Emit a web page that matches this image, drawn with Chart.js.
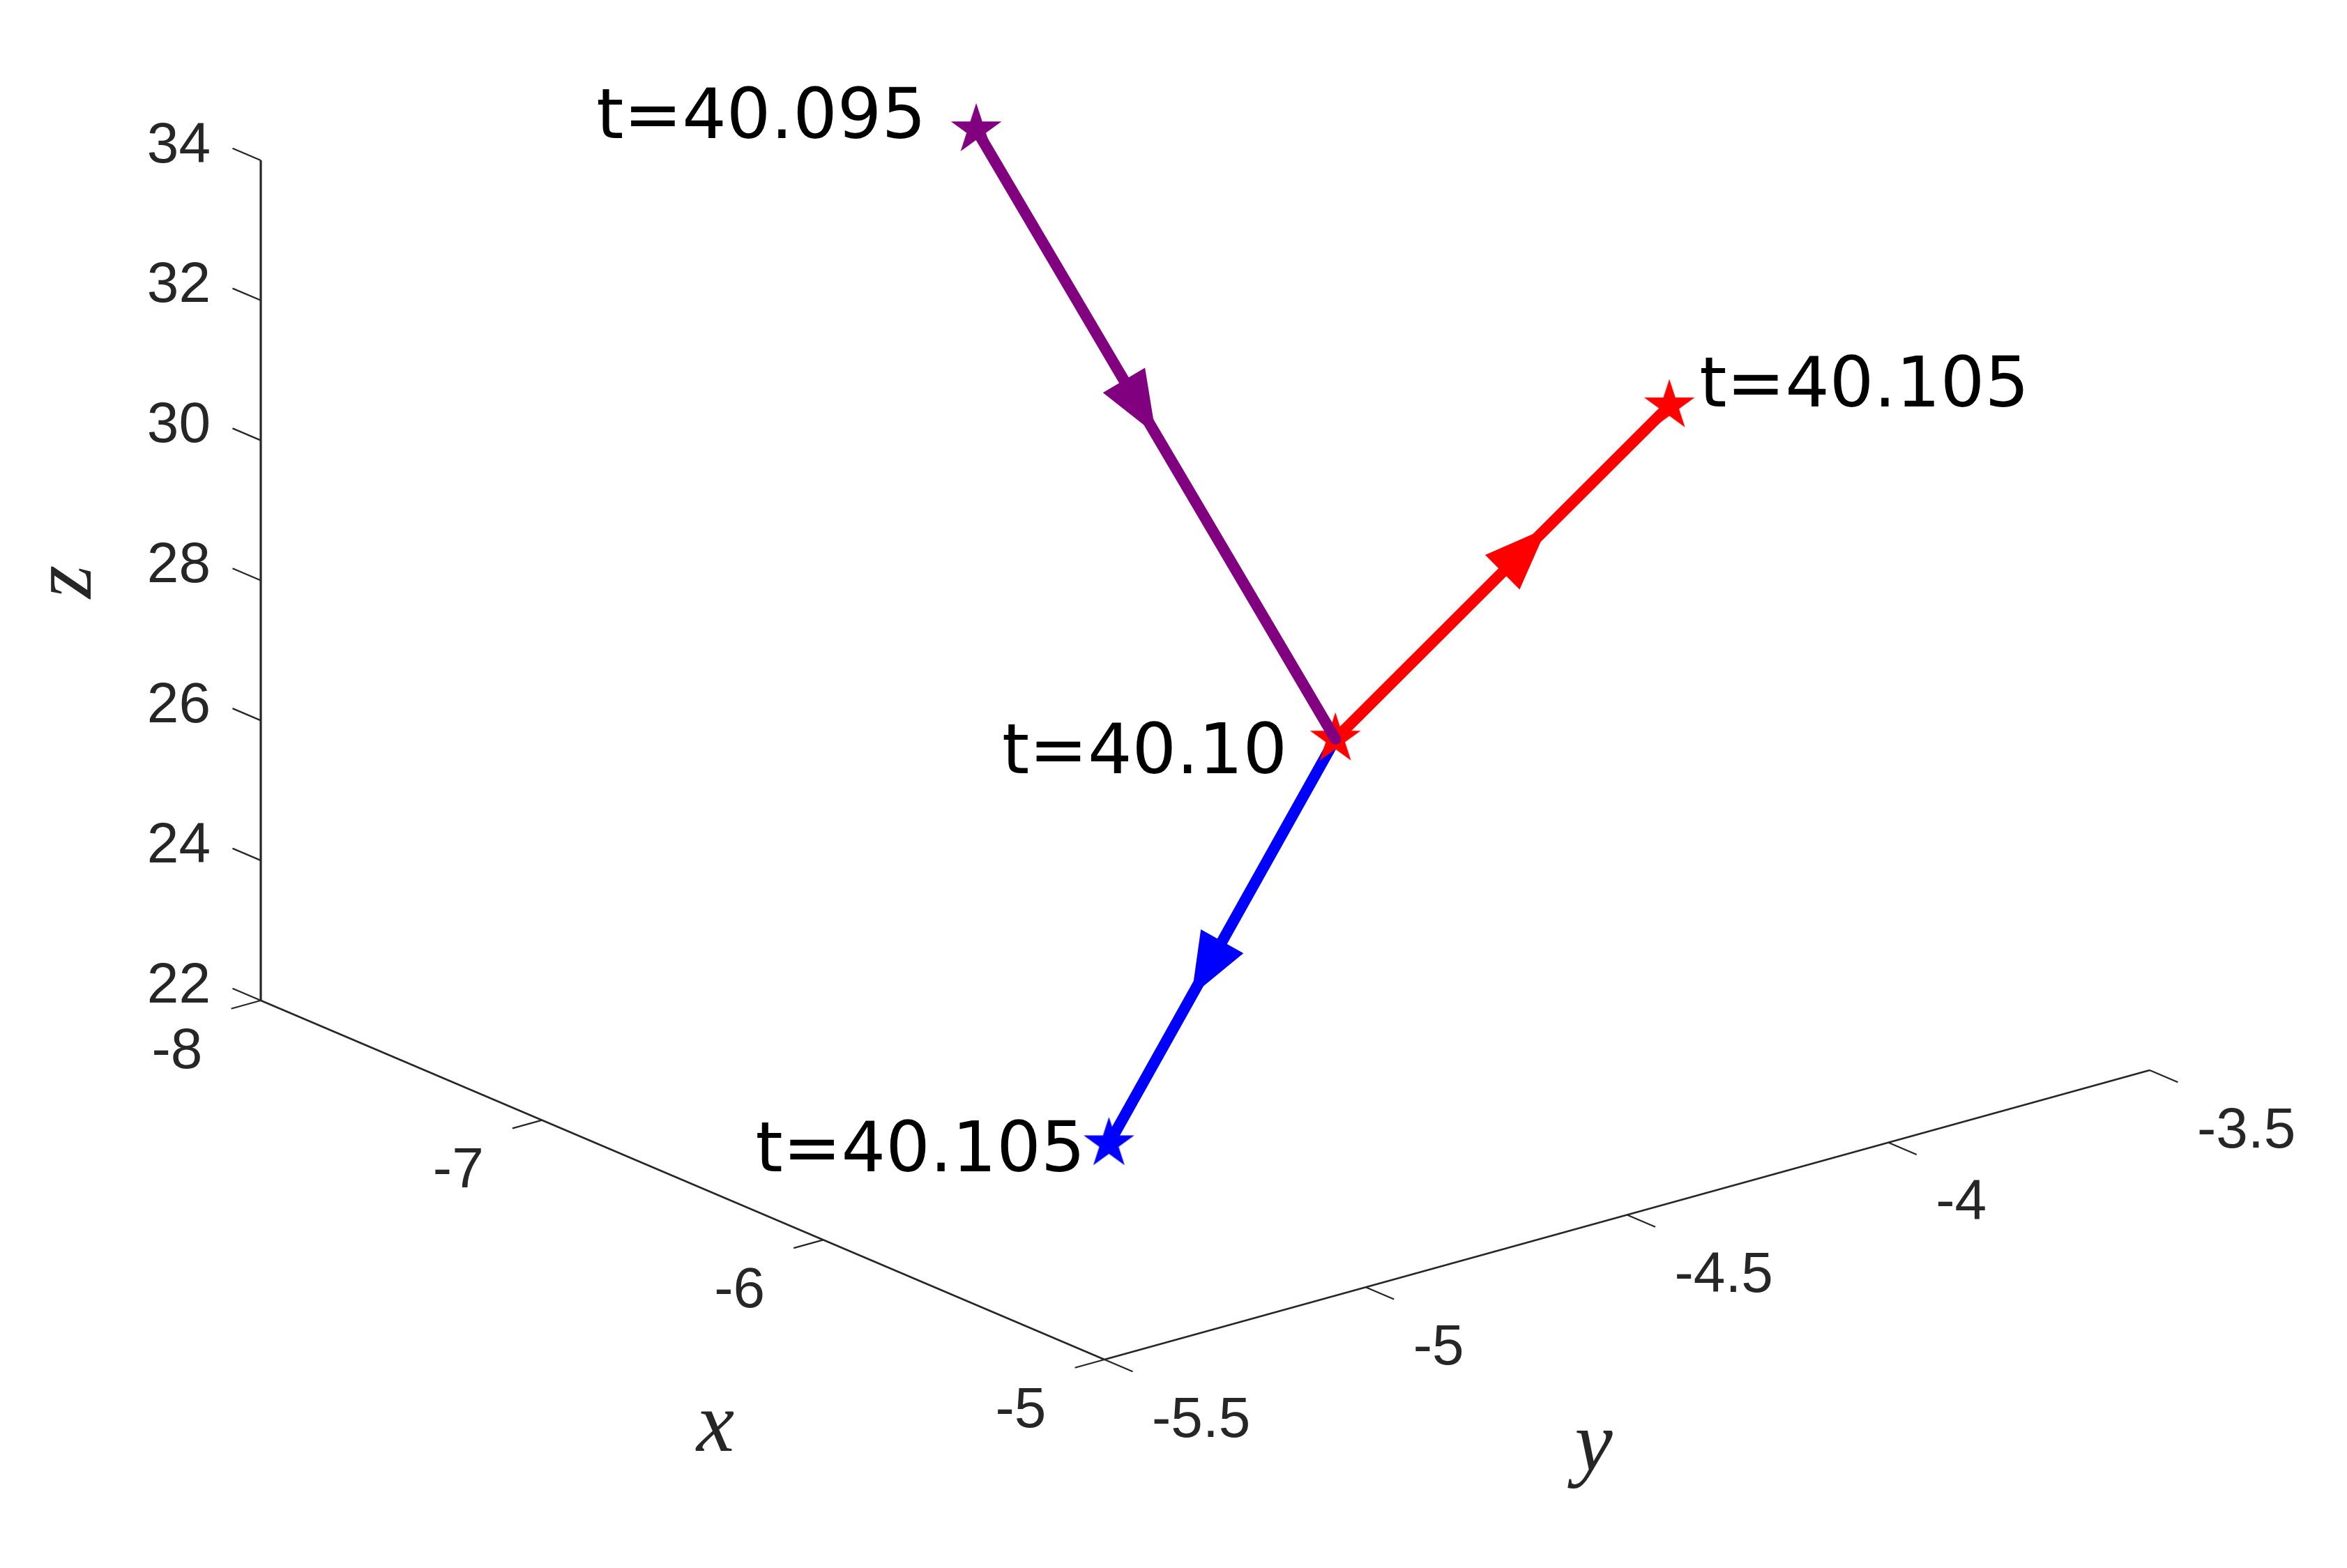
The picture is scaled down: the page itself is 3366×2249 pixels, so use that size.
<!DOCTYPE html>
<html><head><meta charset="utf-8">
<script src="https://cdn.jsdelivr.net/npm/chart.js@4/dist/chart.umd.min.js"></script>
<style>html,body{margin:0;padding:0;background:#fff;overflow:hidden}#wrap{width:3366px;height:2249px;position:relative}</style>
</head><body><div id="wrap"><canvas id="c" width="3366" height="2249"></canvas></div>
<script>
// ---------------- data ----------------
const xTicks = [-8, -7, -6, -5];
const yTicks = [-5.5, -5, -4.5, -4, -3.5];
const zTicks = [22, 24, 26, 28, 30, 32, 34];
const purpleX = [-7.50, -6.00];
const purpleY = [-4.40, -4.52];
const purpleZ = [33.02, 27.13];
const redX = [-6.00, -5.50];
const redY = [-4.52, -4.15];
const redZ = [27.13, 31.98];
const blueX = [-6.00, -5.30];
const blueY = [-4.52, -5.33];
const blueZ = [27.13, 24.22];
const pointLabels = ['t=40.095', 't=40.10', 't=40.105', 't=40.105'];
const axisNames = ['x', 'y', 'z'];

// ---------------- view (orthographic 3-D projection) ----------------
const VIEW = { ox: 374, oy: 1435, ex: [403.33, 171.67], ey: [749.5, -207.5], ez: [0, -100.42] };
const X0 = xTicks[0], X1 = xTicks[xTicks.length - 1];
const Y0 = yTicks[0], Y1 = yTicks[yTicks.length - 1];
const Z0 = zTicks[0], Z1 = zTicks[zTicks.length - 1];
function proj(x, y, z) {
  const a = x - X0, b = y - Y0, c = z - Z0;
  return { x: VIEW.ox + a * VIEW.ex[0] + b * VIEW.ey[0] + c * VIEW.ez[0],
           y: VIEW.oy + a * VIEW.ex[1] + b * VIEW.ey[1] + c * VIEW.ez[1] };
}
function series(xs, ys, zs) { return xs.map((v, i) => proj(v, ys[i], zs[i])); }

function starImage(color) {
  const R = 35, r = R * 0.382, s = 2 * R + 8;
  const cv = document.createElement('canvas'); cv.width = s; cv.height = s;
  const g = cv.getContext('2d');
  g.translate(s / 2, s / 2);
  g.beginPath();
  for (let k = 0; k < 10; k++) {
    const ang = -Math.PI / 2 + k * Math.PI / 5, rr = (k % 2 === 0) ? R : r;
    const px = rr * Math.cos(ang), py = rr * Math.sin(ang);
    if (k === 0) g.moveTo(px, py); else g.lineTo(px, py);
  }
  g.closePath();
  g.fillStyle = color; g.fill();
  g.lineWidth = 2; g.strokeStyle = color; g.stroke();
  return cv;
}

const AX = '#262626';
const TICKFONT = '82px "Liberation Sans", Arial, sans-serif';
const TXTFONT = '100px "DejaVu Sans", sans-serif';
const NAMEFONT = 'italic 122px "Liberation Serif", "Times New Roman", serif';

const axesPlugin = {
  id: 'axes3d',
  beforeDatasetsDraw(chart) {
    const ctx = chart.ctx, sx = chart.scales.x, sy = chart.scales.y;
    const P = (x, y, z) => { const p = proj(x, y, z); return [sx.getPixelForValue(p.x), sy.getPixelForValue(p.y)]; };
    const unit = (a, b) => { const dx = b[0] - a[0], dy = b[1] - a[1], l = Math.hypot(dx, dy); return [dx / l, dy / l]; };
    const dX = unit(P(X0, Y0, Z0), P(X1, Y0, Z0));
    const dY = unit(P(X1, Y0, Z0), P(X1, Y1, Z0));
    const TL = 44;
    ctx.save();
    ctx.strokeStyle = AX; ctx.lineCap = 'butt';
    const seg = (a, b, w) => { ctx.lineWidth = w; ctx.beginPath(); ctx.moveTo(a[0], a[1]); ctx.lineTo(b[0], b[1]); ctx.stroke(); };
    // axis lines
    seg(P(X0, Y0, Z0), P(X0, Y0, Z1), 3.2);
    seg(P(X0, Y0, Z0), P(X1, Y0, Z0), 2.6);
    seg(P(X1, Y0, Z0), P(X1, Y1, Z0), 2.6);
    ctx.fillStyle = AX; ctx.font = TICKFONT;
    // z ticks
    zTicks.forEach(z => {
      const p = P(X0, Y0, z);
      seg(p, [p[0] - dX[0] * TL, p[1] - dX[1] * TL], 2.3);
      ctx.textAlign = 'right'; ctx.textBaseline = 'middle';
      ctx.fillText(String(z), p[0] - 72, p[1] - 20);
    });
    // x ticks
    xTicks.forEach(x => {
      const p = P(x, Y0, Z0);
      seg(p, [p[0] - dY[0] * TL, p[1] - dY[1] * TL], 2.3);
      ctx.textAlign = 'center'; ctx.textBaseline = 'middle';
      ctx.fillText(String(x), p[0] - 120, p[1] + 74);
    });
    // y ticks
    yTicks.forEach(y => {
      const p = P(X1, y, Z0);
      seg(p, [p[0] + dX[0] * TL, p[1] + dX[1] * TL], 2.3);
      ctx.textAlign = 'left'; ctx.textBaseline = 'middle';
      ctx.fillText(String(y), p[0] + 68, p[1] + 88);
    });
    // axis names
    ctx.font = NAMEFONT; ctx.textAlign = 'center'; ctx.textBaseline = 'middle';
    const xm = P((X0 + X1) / 2, Y0, Z0);
    ctx.fillText(axisNames[0], xm[0] + 47, xm[1] + 356);
    const ym = P(X1, (Y0 + Y1) / 2, Z0);
    ctx.fillText(axisNames[1], ym[0] - 48, ym[1] + 334);
    const zm = P(X0, Y0, (Z0 + Z1) / 2);
    ctx.save(); ctx.translate(zm[0] - 276, zm[1] + 2); ctx.rotate(-Math.PI / 2);
    ctx.fillText(axisNames[2], 0, 0); ctx.restore();
    ctx.restore();
  },
  afterDatasetDraw(chart, args) {
    const ds = chart.data.datasets[args.index];
    const pts = args.meta.data;
    if (!pts || pts.length < 2) return;
    const a = pts[0], b = pts[1];
    const dx = b.x - a.x, dy = b.y - a.y, l = Math.hypot(dx, dy);
    const ux = dx / l, uy = dy / l, nx = -uy, ny = ux;
    const mx = (a.x + b.x) / 2, my = (a.y + b.y) / 2;
    const L = 90, W = 35;
    let bx, by;
    if (ds.arrowAnchor === 'tip') { bx = mx - ux * L; by = my - uy * L; } else { bx = mx; by = my; }
    const ctx = chart.ctx;
    ctx.save();
    ctx.fillStyle = ds.borderColor;
    ctx.beginPath();
    ctx.moveTo(bx + ux * L, by + uy * L);
    ctx.lineTo(bx + nx * W, by + ny * W);
    ctx.lineTo(bx - nx * W, by - ny * W);
    ctx.closePath(); ctx.fill();
    ctx.restore();
  },
  afterDatasetsDraw(chart) {
    const ctx = chart.ctx;
    const m = i => chart.getDatasetMeta(i).data;
    const spots = [
      { el: m(0)[0], align: 'right', dx: -72, dy: 12 },
      { el: m(1)[0], align: 'right', dx: -69, dy: 49 },
      { el: m(1)[1], align: 'left', dx: 43, dy: 1 },
      { el: m(2)[1], align: 'right', dx: -34, dy: 40 }
    ];
    ctx.save();
    ctx.fillStyle = '#000'; ctx.font = TXTFONT; ctx.textBaseline = 'alphabetic';
    spots.forEach((s, i) => { ctx.textAlign = s.align; ctx.fillText(pointLabels[i], s.el.x + s.dx, s.el.y + s.dy); });
    ctx.restore();
  }
};

const chart = new Chart(document.getElementById('c'), {
  type: 'scatter',
  data: {
    datasets: [
      { label: 'purple', data: series(purpleX, purpleY, purpleZ), showLine: true, borderColor: '#800080', backgroundColor: '#800080',
        borderWidth: 16, borderCapStyle: 'round', pointStyle: starImage('#800080'), pointRadius: [20, 0], arrowAnchor: 'tip' },
      { label: 'red', data: series(redX, redY, redZ), showLine: true, borderColor: '#FF0000', backgroundColor: '#FF0000',
        borderWidth: 16, borderCapStyle: 'round', pointStyle: starImage('#FF0000'), pointRadius: [20, 20], arrowAnchor: 'base' },
      { label: 'blue', data: series(blueX, blueY, blueZ), showLine: true, borderColor: '#0000FF', backgroundColor: '#0000FF',
        borderWidth: 16, borderCapStyle: 'round', pointStyle: starImage('#0000FF'), pointRadius: [0, 20], arrowAnchor: 'base' }
    ]
  },
  options: {
    responsive: false, animation: false, devicePixelRatio: 1, events: [],
    layout: { padding: 0, autoPadding: false },
    plugins: { legend: { display: false }, tooltip: { enabled: false } },
    scales: {
      x: { type: 'linear', min: 0, max: 3366, display: false },
      y: { type: 'linear', min: 0, max: 2249, reverse: true, display: false }
    }
  },
  plugins: [axesPlugin]
});
</script></body></html>
